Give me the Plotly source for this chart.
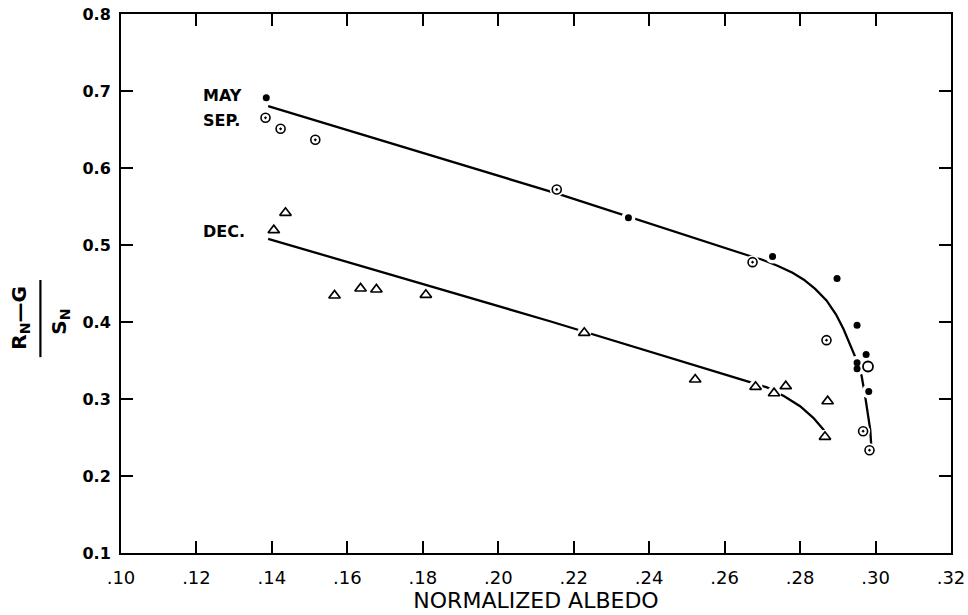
import plotly.graph_objects as go

# ---------------- data ----------------
may_x = [0.1385, 0.2345, 0.2727, 0.2898, 0.2951, 0.2975, 0.2951, 0.2951, 0.2982]
may_y = [0.6912, 0.5353, 0.4851, 0.4565, 0.3958, 0.3578, 0.3470, 0.3392, 0.3097]

sep_x = [0.1383, 0.1423, 0.1515, 0.2155, 0.2674, 0.2870, 0.2967, 0.2984]
sep_y = [0.6652, 0.6509, 0.6366, 0.5721, 0.4777, 0.3764, 0.2582, 0.2335]

open_x = [0.2980]
open_y = [0.3422]

dec_x = [0.1405, 0.1436, 0.1566, 0.1635, 0.1677, 0.1808, 0.2228, 0.2522,
         0.2682, 0.2731, 0.2762, 0.2866, 0.2873]
dec_y = [0.5192, 0.5418, 0.4344, 0.4435, 0.4422, 0.4353, 0.3860, 0.3253,
         0.3158, 0.3075, 0.3166, 0.2509, 0.2971]

# fitted curves (hand drawn in the original), read point by point
may_curve_x = [0.1390, 0.2163, 0.2663, 0.2698, 0.2740, 0.2780, 0.2810, 0.2840,
               0.2870, 0.2895, 0.2915, 0.2932, 0.2945, 0.2955, 0.2963, 0.2972,
               0.2980, 0.2986, 0.2989]
may_curve_y = [0.6803, 0.5658, 0.4864, 0.4812, 0.4730, 0.4640, 0.4550, 0.4430,
               0.4280, 0.4100, 0.3910, 0.3720, 0.3560, 0.3420, 0.3300, 0.3050,
               0.2800, 0.2600, 0.2360]

dec_curve_x = [0.1390, 0.2137, 0.2667, 0.2712, 0.2758, 0.2800, 0.2835, 0.2864]
dec_curve_y = [0.5080, 0.4010, 0.3218, 0.3152, 0.3036, 0.2906, 0.2756, 0.2591]

x_tickvals = [0.10, 0.12, 0.14, 0.16, 0.18, 0.20, 0.22, 0.24, 0.26, 0.28, 0.30, 0.32]
x_ticktext = [".10", ".12", ".14", ".16", ".18", ".20", ".22", ".24", ".26", ".28", ".30", ".32"]
y_tickvals = [0.1, 0.2, 0.3, 0.4, 0.5, 0.6, 0.7, 0.8]
y_ticktext = ["0.1", "0.2", "0.3", "0.4", "0.5", "0.6", "0.7", "0.8"]

series_labels = ["MAY", "SEP.", "DEC."]
label_x = [0.1211, 0.1211, 0.1211]
label_y = [0.6948, 0.6617, 0.5175]

# ---------------- figure ----------------
fig = go.Figure()
LW = 2.3

fig.add_trace(go.Scatter(x=may_curve_x, y=may_curve_y, mode="lines",
                         line=dict(color="black", width=LW), hoverinfo="skip"))
fig.add_trace(go.Scatter(x=dec_curve_x, y=dec_curve_y, mode="lines",
                         line=dict(color="black", width=LW), hoverinfo="skip"))

# white halos that break the lines around the symbols
halo = dict(color="white", size=14, line=dict(width=0))
for xs, ys in [(sep_x, sep_y), (dec_x, dec_y), (may_x, may_y), (open_x, open_y)]:
    fig.add_trace(go.Scatter(x=xs, y=ys, mode="markers", marker=halo, hoverinfo="skip"))

fig.add_trace(go.Scatter(x=dec_x, y=dec_y, mode="markers", name="DEC.",
                         marker=dict(symbol="triangle-up", size=10, color="white",
                                     line=dict(color="black", width=1.7))))
fig.add_trace(go.Scatter(x=sep_x, y=sep_y, mode="markers", name="SEP.",
                         marker=dict(symbol="circle-dot", size=9, color="white",
                                     line=dict(color="black", width=1.6))))
fig.add_trace(go.Scatter(x=open_x, y=open_y, mode="markers", name="open",
                         marker=dict(symbol="circle", size=10, color="white",
                                     line=dict(color="black", width=1.8))))
fig.add_trace(go.Scatter(x=may_x, y=may_y, mode="markers", name="MAY",
                         marker=dict(symbol="circle", size=7, color="black",
                                     line=dict(width=0))))

for t, lx, ly in zip(series_labels, label_x, label_y):
    fig.add_annotation(x=lx, y=ly, xref="x", yref="y", text=t, showarrow=False,
                       xanchor="left", yanchor="middle",
                       font=dict(family="DejaVu Sans", size=16, color="black", weight="bold"))

# y-axis title as a stacked fraction
fig.add_annotation(x=-0.122, y=0.436, xref="paper", yref="paper",
                   text="R<sub>N</sub>\u2014G", textangle=-90, showarrow=False,
                   xanchor="center", yanchor="middle",
                   font=dict(family="DejaVu Sans", size=20, color="black", weight="bold"))
fig.add_annotation(x=-0.073, y=0.430, xref="paper", yref="paper",
                   text="S<sub>N</sub>", textangle=-90, showarrow=False,
                   xanchor="center", yanchor="middle",
                   font=dict(family="DejaVu Sans", size=20, color="black", weight="bold"))
fig.add_shape(type="line", xref="paper", yref="paper",
              x0=-0.0971, x1=-0.0971, y0=0.3634, y1=0.5065,
              line=dict(color="black", width=2.2))

axis_common = dict(showline=True, linecolor="black", linewidth=2, mirror="ticks",
                   ticks="inside", ticklen=12, tickwidth=2, tickcolor="black",
                   showgrid=False, zeroline=False)

fig.update_xaxes(range=[0.10, 0.32], tickvals=x_tickvals, ticktext=x_ticktext,
                 tickfont=dict(family="DejaVu Sans", size=18, color="black"),
                 ticklabelstandoff=7,
                 title=dict(text="NORMALIZED ALBEDO", standoff=5,
                            font=dict(family="DejaVu Sans", size=22, color="black")),
                 **axis_common)
fig.update_yaxes(range=[0.1, 0.8], tickvals=y_tickvals, ticktext=y_ticktext,
                 tickfont=dict(family="DejaVu Sans", size=16, color="black", weight="bold"),
                 ticklabelstandoff=5,
                 **axis_common)

fig.update_layout(width=968, height=615, showlegend=False,
                  plot_bgcolor="white", paper_bgcolor="white",
                  margin=dict(l=121, r=17, t=14, b=62, autoexpand=False))

fig.write_html("out.html")
